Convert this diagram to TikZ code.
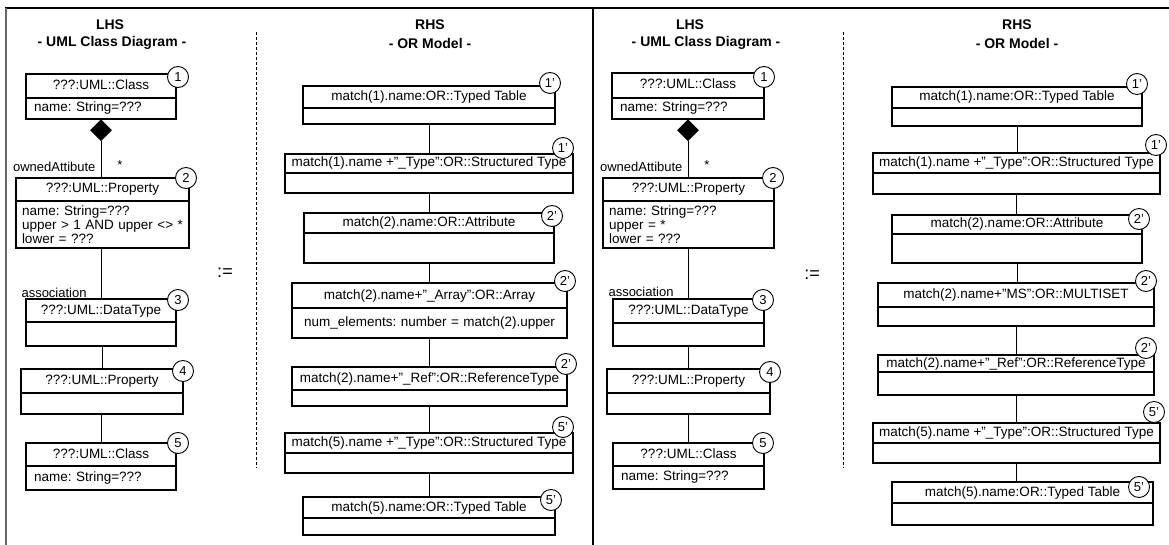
\documentclass[tikz,border=0pt]{standalone}
\usepackage{fontspec}
\setmainfont{Liberation Sans}
\usetikzlibrary{shapes.geometric}
\frenchspacing

\begin{document}
\begin{tikzpicture}[
  x=1pt,y=-1pt,
  hdr/.style={draw,line width=1.1pt,anchor=north west,outer sep=0pt,inner xsep=2pt,inner ysep=0pt,text height=10pt,text depth=3pt,font=\fontsize{13.5}{16}\selectfont},
  cmp/.style={draw,line width=1.1pt,anchor=north west,outer sep=0pt,inner xsep=8pt,inner ysep=0pt,align=left,font=\fontsize{13.5}{14}\selectfont},
  num/.style={circle,draw,fill=white,line width=0.9pt,minimum size=21pt,inner sep=0pt,font=\fontsize{13}{14}\selectfont},
  comp/.style={diamond,fill=black,minimum width=22pt,minimum height=22pt,inner sep=0pt,anchor=north},
  link/.style={line width=0.8pt},
  role/.style={font=\fontsize{13}{14}\selectfont},
  title/.style={font=\fontsize{14}{18}\selectfont\bfseries},
  sep/.style={dash pattern=on 3pt off 2pt,line width=0.7pt}
]
  \useasboundingbox (0,0) rectangle (1169,545);

  % frame
  \draw[line width=1.2pt] (5,8) -- (1169,8);
  \draw[line width=1.2pt,black!60] (6,8) -- (6,545);
  \draw[line width=1.2pt] (593,8) -- (593,545);
  \draw[sep] (256,32) -- (256,468);
  \draw[sep] (843,32) -- (843,468);

  % titles
  \node[title] (lhsa) at (110,25) {LHS};
  \node[title] (lhsa2) at (112,43) {- UML Class Diagram -};
  \node[title] (rhsa) at (430,25) {RHS};
  \node[title] (rhsa2) at (430,43) {- OR Model -};
  \node[title] (lhsb) at (690,25) {LHS};
  \node[title] (lhsb2) at (706,43) {- UML Class Diagram -};
  \node[title] (rhsb) at (1017,25) {RHS};
  \node[title] (rhsb2) at (1017,43) {- OR Model -};
  \node[font=\fontsize{18}{18}\selectfont] (defa) at (225,273) {:=};
  \node[font=\fontsize{18}{18}\selectfont] (defb) at (812,275) {:=};

  % left rule, LHS
  \node[hdr,minimum width=150pt,minimum height=24pt] (la1) at (26,74) {???:UML::Class};
  \node[cmp,minimum height=21pt,text width=134pt] (la1b) at (la1.south west) {name: String=???};
  \node[hdr,minimum width=173pt,minimum height=23pt] (la2) at (16,178) {???:UML::Property};
  \node[cmp,minimum height=47pt,text width=161pt,inner xsep=6pt] (la2b) at (la2.south west) {name: String=???\\upper > 1 AND upper <> *\\lower = ???};
  \node[hdr,minimum width=150pt,minimum height=23pt] (la3) at (26,299) {???:UML::DataType};
  \node[cmp,minimum width=150pt,minimum height=24pt] (la3b) at (la3.south west) {};
  \node[hdr,minimum width=162pt,minimum height=24pt] (la4) at (21,369) {???:UML::Property};
  \node[cmp,minimum width=162pt,minimum height=21pt] (la4b) at (la4.south west) {};
  \node[hdr,minimum width=150pt,minimum height=23pt] (la5) at (26,443) {???:UML::Class};
  \node[cmp,minimum height=24pt,text width=134pt] (la5b) at (la5.south west) {name: String=???};

  \node[comp] (da) at (la1b.south) {};
  \draw[link] (da.south) -- (da.south |- la2.north);
  \draw[link] (la3.north |- la2b.south) -- (la3.north);
  \draw[link] (la4.north |- la3b.south) -- (la4.north);
  \draw[link] (la5.north |- la4b.south) -- (la5.north);
  \node[role,anchor=east] (oaa) at (99,167) {ownedAttibute};
  \node[role] (stara) at (120,165) {*};
  \node[role,anchor=west] (asa) at (18,293) {association};

  \node[num] (na1) at (178,77) {1};
  \node[num] (na2) at (186,178) {2};
  \node[num] (na3) at (178,300) {3};
  \node[num] (na4) at (183,371) {4};
  \node[num] (na5) at (178,443) {5};

  % left rule, RHS
  \node[hdr,minimum width=252pt,minimum height=22pt] (ra1) at (303,86) {match(1).name:OR::Typed Table};
  \node[cmp,minimum width=252pt,minimum height=16pt] (ra1b) at (ra1.south west) {};
  \node[hdr,minimum width=288pt,minimum height=19pt] (ra2) at (285,154) {match(1).name +"\_Type":OR::Structured Type};
  \node[cmp,minimum width=288pt,minimum height=20pt] (ra2b) at (ra2.south west) {};
  \node[hdr,minimum width=250pt,minimum height=20pt] (ra3) at (304,213) {match(2).name:OR::Attribute};
  \node[cmp,minimum width=250pt,minimum height=30pt] (ra3b) at (ra3.south west) {};
  \node[hdr,minimum width=275pt,minimum height=25pt] (ra4) at (292,283) {match(2).name+"\_Array":OR::Array};
  \node[cmp,minimum height=30pt,text width=259pt,align=center] (ra4b) at (ra4.south west) {num\_elements: number = match(2).upper};
  \node[hdr,minimum width=275pt,minimum height=23pt] (ra5) at (292,367) {match(2).name+"\_Ref":OR::ReferenceType};
  \node[cmp,minimum width=275pt,minimum height=16pt] (ra5b) at (ra5.south west) {};
  \node[hdr,minimum width=288pt,minimum height=20pt] (ra6) at (285,433) {match(5).name +"\_Type":OR::Structured Type};
  \node[cmp,minimum width=288pt,minimum height=20pt] (ra6b) at (ra6.south west) {};
  \node[hdr,minimum width=252pt,minimum height=21pt] (ra7) at (303,497) {match(5).name:OR::Typed Table};
  \node[cmp,minimum width=252pt,minimum height=17pt] (ra7b) at (ra7.south west) {};

  \draw[link] (ra1b.south) -- (ra1b.south |- ra2.north);
  \draw[link] (ra2b.south) -- (ra2b.south |- ra3.north);
  \draw[link] (ra3b.south) -- (ra3b.south |- ra4.north);
  \draw[link] (ra4b.south) -- (ra4b.south |- ra5.north);
  \draw[link] (ra5b.south) -- (ra5b.south |- ra6.north);
  \draw[link] (ra6b.south) -- (ra6b.south |- ra7.north);

  \node[num] (nr1) at (550,83) {1'};
  \node[num] (nr2) at (563,148) {1'};
  \node[num] (nr3) at (552,216) {2'};
  \node[num] (nr4) at (565,281) {2'};
  \node[num] (nr5) at (566,364) {2'};
  \node[num] (nr6) at (563,427) {5'};
  \node[num] (nr7) at (551,500) {5'};

  % right rule, LHS
  \node[hdr,minimum width=152pt,minimum height=25pt] (lb1) at (612,73) {???:UML::Class};
  \node[cmp,minimum height=21pt,text width=136pt] (lb1b) at (lb1.south west) {name: String=???};
  \node[hdr,minimum width=171pt,minimum height=23pt] (lb2) at (603,178) {???:UML::Property};
  \node[cmp,minimum height=47pt,text width=159pt,inner xsep=6pt] (lb2b) at (lb2.south west) {name: String=???\\upper = *\\lower = ???};
  \node[hdr,minimum width=151pt,minimum height=24pt] (lb3) at (613,299) {???:UML::DataType};
  \node[cmp,minimum width=151pt,minimum height=23pt] (lb3b) at (lb3.south west) {};
  \node[hdr,minimum width=163pt,minimum height=24pt] (lb4) at (607,369) {???:UML::Property};
  \node[cmp,minimum width=163pt,minimum height=21pt] (lb4b) at (lb4.south west) {};
  \node[hdr,minimum width=151pt,minimum height=23pt] (lb5) at (613,443) {???:UML::Class};
  \node[cmp,minimum height=23pt,text width=135pt] (lb5b) at (lb5.south west) {name: String=???};

  \node[comp] (db) at (lb1b.south) {};
  \draw[link] (db.south) -- (db.south |- lb2.north);
  \draw[link] (lb3.north |- lb2b.south) -- (lb3.north);
  \draw[link] (lb4.north |- lb3b.south) -- (lb4.north);
  \draw[link] (lb5.north |- lb4b.south) -- (lb5.north);
  \node[role,anchor=east] (oab) at (686,167) {ownedAttibute};
  \node[role] (starb) at (707,165) {*};
  \node[role,anchor=west] (asb) at (605,292) {association};

  \node[num] (nb1) at (764,77) {1};
  \node[num] (nb2) at (773,178) {2};
  \node[num] (nb3) at (763,300) {3};
  \node[num] (nb4) at (770,372) {4};
  \node[num] (nb5) at (763,443) {5};

  % right rule, RHS
  \node[hdr,minimum width=250pt,minimum height=21pt] (rb1) at (892,87) {match(1).name:OR::Typed Table};
  \node[cmp,minimum width=250pt,minimum height=18pt] (rb1b) at (rb1.south west) {};
  \node[hdr,minimum width=287pt,minimum height=20pt] (rb2) at (873,153) {match(1).name +"\_Type":OR::Structured Type};
  \node[cmp,minimum width=287pt,minimum height=21pt] (rb2b) at (rb2.south west) {};
  \node[hdr,minimum width=250pt,minimum height=19pt] (rb3) at (892,215) {match(2).name:OR::Attribute};
  \node[cmp,minimum width=250pt,minimum height=29pt] (rb3b) at (rb3.south west) {};
  \node[hdr,minimum width=276pt,minimum height=24pt] (rb4) at (878,283) {match(2).name+"MS":OR::MULTISET};
  \node[cmp,minimum width=276pt,minimum height=19pt] (rb4b) at (rb4.south west) {};
  \node[hdr,minimum width=276pt,minimum height=17pt] (rb5) at (878,355) {match(2).name+"\_Ref":OR::ReferenceType};
  \node[cmp,minimum width=276pt,minimum height=23pt] (rb5b) at (rb5.south west) {};
  \node[hdr,minimum width=287pt,minimum height=20pt] (rb6) at (873,423) {match(5).name +"\_Type":OR::Structured Type};
  \node[cmp,minimum width=287pt,minimum height=20pt] (rb6b) at (rb6.south west) {};
  \node[hdr,minimum width=261pt,minimum height=21pt] (rb7) at (892,482) {match(5).name:OR::Typed Table};
  \node[cmp,minimum width=261pt,minimum height=22pt] (rb7b) at (rb7.south west) {};

  \draw[link] (rb1b.south) -- (rb1b.south |- rb2.north);
  \draw[link] (rb2b.south) -- (rb2b.south |- rb3.north);
  \draw[link] (rb3b.south) -- (rb3b.south |- rb4.north);
  \draw[link] (rb4b.south) -- (rb4b.south |- rb5.north);
  \draw[link] (rb5b.south) -- (rb5b.south |- rb6.north);
  \draw[link] (rb6b.south) -- (rb6b.south |- rb7.north);

  \node[num] (ns1) at (1137,84) {1'};
  \node[num] (ns2) at (1156,145) {1'};
  \node[num] (ns3) at (1139,219) {2'};
  \node[num] (ns4) at (1146,281) {2'};
  \node[num] (ns5) at (1146,348) {2'};
  \node[num] (ns6) at (1154,412) {5'};
  \node[num] (ns7) at (1139,487) {5'};
\end{tikzpicture}
\end{document}
